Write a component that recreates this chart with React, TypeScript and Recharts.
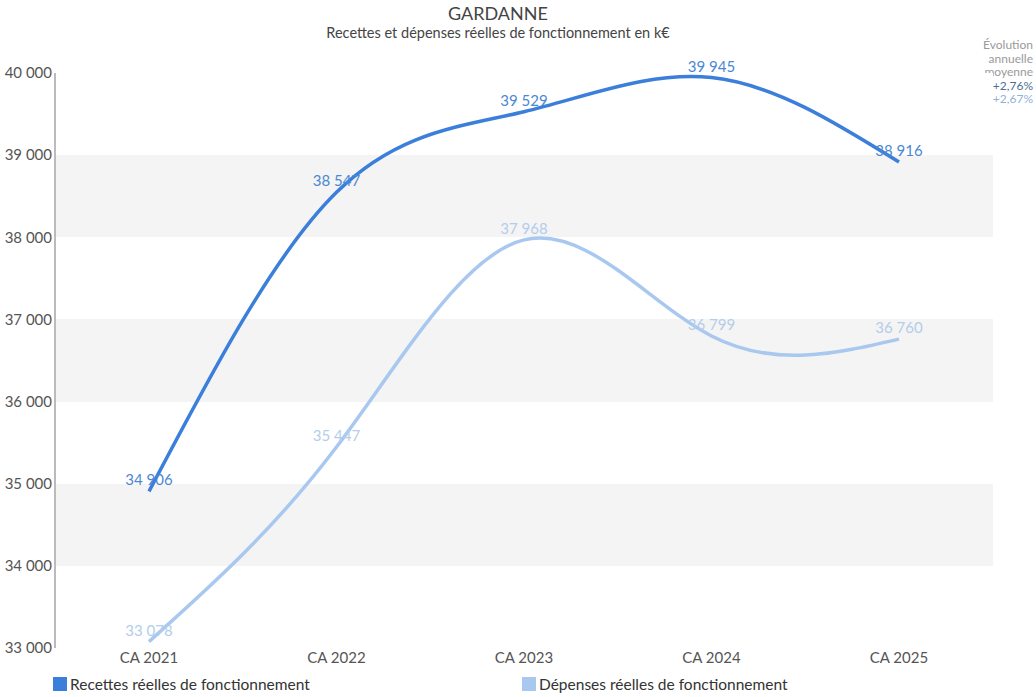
import React from "react";
import {
  LineChart,
  Line,
  XAxis,
  YAxis,
  CartesianGrid,
  LabelList,
} from "recharts";

const categories = ["CA 2021", "CA 2022", "CA 2023", "CA 2024", "CA 2025"];
const recettes = [34906, 38547, 39529, 39945, 38916];
const depenses = [33078, 35447, 37968, 36799, 36760];
const yTicks = [33000, 34000, 35000, 36000, 37000, 38000, 39000, 40000];
const evolutions = ["+2,76%", "+2,67%"];

const DARK = "#3b7fdb";
const LIGHT = "#a9c8f0";
const FONT = "Lato, 'Open Sans', sans-serif";

const data = categories.map((c, i) => ({
  name: c,
  recettes: recettes[i],
  depenses: depenses[i],
}));

const fmt = (v: number) =>
  String(v).replace(/\B(?=(\d{3})+(?!\d))/g, " ");

export default function App() {
  return (
    <div
      style={{
        position: "absolute",
        left: 0,
        top: 0,
        width: 1036,
        height: 697,
        fontFamily: FONT,
        background: "#fff",
      }}
    >
      <div
        style={{
          position: "absolute",
          top: 3,
          left: 0,
          width: 996,
          textAlign: "center",
          fontSize: 18,
          lineHeight: "20px",
          color: "#444",
        }}
      >
        GARDANNE
      </div>
      <div
        style={{
          position: "absolute",
          top: 25,
          left: 0,
          width: 996,
          textAlign: "center",
          fontSize: 14.5,
          lineHeight: "16px",
          color: "#444",
        }}
      >
        Recettes et dépenses réelles de fonctionnement en k€
      </div>
      <div
        style={{
          position: "absolute",
          top: 38,
          right: 3,
          textAlign: "right",
          fontSize: 12,
          lineHeight: "13.5px",
          color: "#9a9a9a",
        }}
      >
        <div>Évolution</div>
        <div>annuelle</div>
        <div>moyenne</div>
        <div style={{ color: "#4d6f94" }}>{evolutions[0]}</div>
        <div style={{ color: "#8fb2da" }}>{evolutions[1]}</div>
      </div>

      <LineChart
        width={1036}
        height={697}
        data={data}
        margin={{ top: 73, right: 43, bottom: 19, left: 0 }}
      >
        <CartesianGrid
          vertical={false}
          stroke="none"
          horizontalFill={["#ffffff", "#f4f4f4"]}
        />
        <XAxis
          dataKey="name"
          axisLine={false}
          tickLine={false}
          tickSize={0}
          tickMargin={4}
          height={30}
          padding={{ left: 94, right: 94 }}
          tick={{ fill: "#555", fontSize: 15, fontFamily: FONT }}
        />
        <YAxis
          type="number"
          domain={[33000, 40000]}
          ticks={yTicks}
          width={55}
          axisLine={{ stroke: "#bbb", strokeWidth: 2 }}
          tickLine={false}
          tickSize={0}
          tickMargin={3}
          tickFormatter={fmt}
          tick={{ fill: "#555", fontSize: 15, fontFamily: FONT }}
        />
        <Line
          type="natural"
          dataKey="depenses"
          stroke={LIGHT}
          strokeWidth={3.5}
          dot={false}
          isAnimationActive={false}
        >
          <LabelList
            dataKey="depenses"
            position="top"
            offset={6}
            formatter={fmt}
            style={{ fill: "#b3cdeb", fontSize: 15, fontFamily: FONT }}
          />
        </Line>
        <Line
          type="natural"
          dataKey="recettes"
          stroke={DARK}
          strokeWidth={3.5}
          dot={false}
          isAnimationActive={false}
        >
          <LabelList
            dataKey="recettes"
            position="top"
            offset={6}
            formatter={fmt}
            style={{ fill: "#4a88d2", fontSize: 15, fontFamily: FONT }}
          />
        </Line>
      </LineChart>

      <div
        style={{
          position: "absolute",
          top: 675,
          left: 53,
          display: "flex",
          alignItems: "center",
          fontSize: 15.5,
          color: "#333",
        }}
      >
        <span
          style={{ width: 14, height: 14, background: DARK, marginRight: 3 }}
        />
        Recettes réelles de fonctionnement
      </div>
      <div
        style={{
          position: "absolute",
          top: 675,
          left: 522,
          display: "flex",
          alignItems: "center",
          fontSize: 15.5,
          color: "#333",
        }}
      >
        <span
          style={{ width: 14, height: 14, background: LIGHT, marginRight: 3 }}
        />
        Dépenses réelles de fonctionnement
      </div>
    </div>
  );
}
